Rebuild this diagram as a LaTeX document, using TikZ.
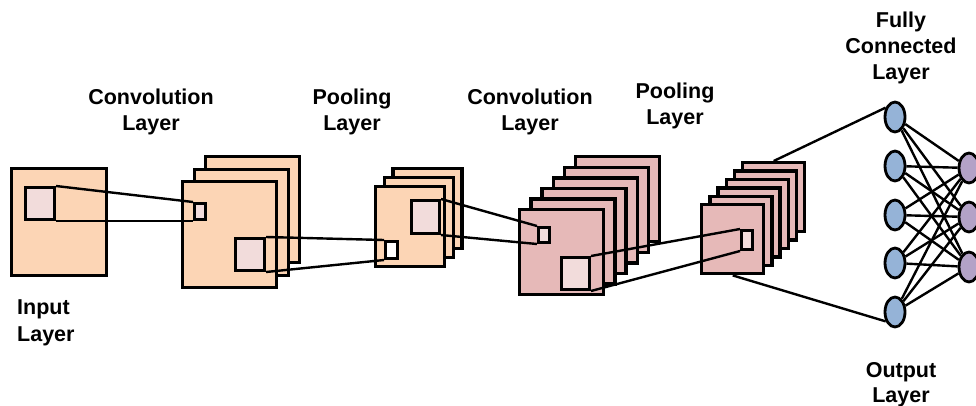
\documentclass[tikz,border=0pt]{standalone}
\usepackage{fontspec}
\setmainfont{Liberation Sans}
\usetikzlibrary{shapes.geometric}

\definecolor{peach}{HTML}{FCD5B5}
\definecolor{rose}{HTML}{E6B9B8}
\definecolor{blush}{HTML}{F2DCDB}
\definecolor{nodeblue}{HTML}{95B3D7}
\definecolor{nodepurple}{HTML}{B3A2C7}

\tikzset{
  sheet/.style={draw=black, line width=3.4pt, rectangle, inner sep=0pt,
                anchor=north west, line join=miter},
  patch/.style={draw=black, line width=3pt, rectangle, inner sep=0pt,
                anchor=north west},
  link/.style={draw=black, line width=2.4pt},
  neuron/.style={draw=black, line width=2.8pt, ellipse, inner sep=0pt,
                 minimum width=20pt, minimum height=30pt},
  caption/.style={font=\bfseries\fontsize{21.5}{26}\selectfont,
                  inner sep=0pt, anchor=base, text=black},
}

% \sheetstack{name}{x}{y}{w}{h}{count}{dx}{dy}{fill}
% draws a pile of feature maps, back to front; name-0 is the front one
\newcommand{\sheetstack}[9]{%
  \pgfmathtruncatemacro{\lastsheet}{#6-1}%
  \foreach \k in {\lastsheet,...,0}{%
    \node[sheet, fill=#9, minimum width=#4pt, minimum height=#5pt]
      (#1-\k) at ({#2+\k*#7},{#3-\k*#8}) {};
  }%
}

\begin{document}
\begin{tikzpicture}[x=1pt, y=-1pt]
  \clip (0,0) rectangle (976,405);
  \fill[white] (0,0) rectangle (976,405);

  % input image
  \node[sheet, fill=peach, minimum width=95pt, minimum height=107pt] (in-0) at (10,167) {};
  \node[patch, fill=blush, minimum width=29pt, minimum height=32pt] (in-p) at (24,186) {};

  % first convolution
  \sheetstack{c1}{181}{180}{94}{106}{3}{11.5}{12.5}{peach}
  \node[patch, fill=blush, minimum width=11pt, minimum height=16pt] (c1-p) at (193,202) {};
  \node[patch, fill=blush, minimum width=29pt, minimum height=32pt] (c1-q) at (234,237) {};

  % first pooling
  \sheetstack{p1}{374}{185}{69}{80}{3}{8.7}{9}{peach}
  \node[patch, fill=white, minimum width=12pt, minimum height=17pt] (p1-p) at (384,240) {};
  \node[patch, fill=blush, minimum width=28pt, minimum height=33pt] (p1-q) at (410,199) {};

  % second convolution
  \sheetstack{c2}{518}{208}{84}{85}{6}{11.2}{10.6}{rose}
  \node[patch, fill=blush, minimum width=11pt, minimum height=15pt] (c2-p) at (537,226) {};
  \node[patch, fill=blush, minimum width=28pt, minimum height=32pt] (c2-q) at (560,256) {};

  % second pooling
  \sheetstack{p2}{700}{203}{62}{69}{6}{8.2}{8.4}{rose}
  \node[patch, fill=blush, minimum width=11pt, minimum height=19pt] (p2-p) at (740,229) {};

  % dense part
  \foreach \j/\yy in {1/117,2/166,3/215,4/263,5/312}
    \node[neuron, fill=nodeblue] (fc\j) at (895,\yy) {};
  \foreach \j/\yy in {1/168,2/217,3/267}
    \node[neuron, fill=nodepurple] (out\j) at (969,\yy) {};

  % receptive-field connectors
  \draw[link] (in-p.north east) -- (c1-p.north west);
  \draw[link] (in-p.south east) -- (c1-p.south west);
  \draw[link] (c1-q.north east) -- (p1-p.north west);
  \draw[link] (c1-q.south east) -- (p1-p.south west);
  \draw[link] (p1-q.north east) -- (c2-p.north west);
  \draw[link] (p1-q.south east) -- (c2-p.south west);
  \draw[link] (c2-q.north east) -- (p2-p.north west);
  \draw[link] (c2-q.south east) -- (p2-p.south west);

  % flattening into the dense layer
  \draw[link] (p2-5.north) -- (fc1.135);
  \draw[link] (p2-0.south) -- (fc5.225);

  % full connections
  \foreach \a in {1,...,5}
    \foreach \b in {1,2,3}
      \draw[link] (fc\a) -- (out\b);

  % captions
  \node[caption] (t-conv1a) at (151,104) {Convolution};
  \node[caption] (t-conv1b) at (151,130) {Layer};
  \node[caption] (t-pool1a) at (352,104) {Pooling};
  \node[caption] (t-pool1b) at (352,130) {Layer};
  \node[caption] (t-conv2a) at (530,104) {Convolution};
  \node[caption] (t-conv2b) at (530,130) {Layer};
  \node[caption] (t-pool2a) at (675,98) {Pooling};
  \node[caption] (t-pool2b) at (675,124) {Layer};
  \node[caption] (t-fca) at (901,27) {Fully};
  \node[caption] (t-fcb) at (901,53) {Connected};
  \node[caption] (t-fcc) at (901,79) {Layer};
  \node[caption, anchor=base west] (t-ina) at (17,314) {Input};
  \node[caption, anchor=base west] (t-inb) at (17,341) {Layer};
  \node[caption] (t-outa) at (901,377) {Output};
  \node[caption] (t-outb) at (901,402) {Layer};
\end{tikzpicture}
\end{document}
